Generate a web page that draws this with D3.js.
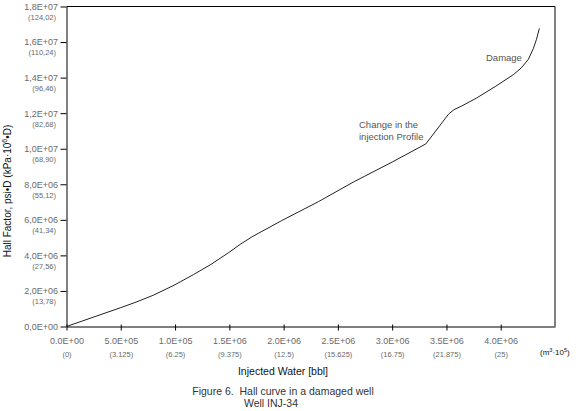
<!DOCTYPE html>
<html><head><meta charset="utf-8">
<script src="https://cdn.jsdelivr.net/npm/d3@7"></script>
<style>
html,body{margin:0;padding:0;background:#fff;}
svg{display:block;}
</style></head>
<body>
<script>
// ---- data ----
const injectedWater = [0, 2.5e5, 5.0e5, 6.4e5, 8.0e5, 9.9e5, 1.17e6, 1.33e6, 1.49e6, 1.6e6, 1.71e6, 1.98e6, 2.32e6, 2.65e6, 3.0e6, 3.31e6, 3.52e6, 3.57e6, 3.64e6, 3.78e6, 3.95e6, 4.12e6, 4.19e6, 4.255e6, 4.30e6, 4.33e6, 4.356e6];
const hallFactor    = [0, 0.53e6, 1.06e6, 1.37e6, 1.76e6, 2.32e6, 2.92e6, 3.49e6, 4.14e6, 4.62e6, 5.05e6, 5.95e6, 7.02e6, 8.15e6, 9.25e6, 10.27e6, 11.95e6, 12.2e6, 12.4e6, 12.86e6, 13.5e6, 14.18e6, 14.55e6, 15.03e6, 15.63e6, 16.16e6, 16.77e6];
const xTicks = [0, 5e5, 1e6, 1.5e6, 2e6, 2.5e6, 3e6, 3.5e6, 4e6];
const xTickLabels = ["0.0E+00","5.0E+05","1.0E+05","1.5E+06","2.0E+06","2.5E+06","3.0E+06","3.5E+06","4.0E+06"];
const xTickSI = ["(0)","(3.125)","(6.25)","(9.375)","(12.5)","(15.625)","(16.75)","(21.875)","(25)"];
const yTicks = [0, 2e6, 4e6, 6e6, 8e6, 1e7, 1.2e7, 1.4e7, 1.6e7, 1.8e7];
const yTickLabels = ["0,0E+00","2,0E+06","4,0E+06","6,0E+06","8,0E+06","1,0E+07","1,2E+07","1,4E+07","1,6E+07","1,8E+07"];
const yTickSI = ["","(13,78)","(27,56)","(41,34)","(55,12)","(68,90)","(82,68)","(96,46)","(110,24)","(124,02)"];

const W = 576, H = 411;
const x = d3.scaleLinear().domain([0, 4.5e6]).range([66.5, 555]);
const y = d3.scaleLinear().domain([0, 1.8e7]).range([326.5, 6.5]);

const svg = d3.select("body").append("svg").attr("width", W).attr("height", H)
  .style("font-family", "'Liberation Sans', Arial, sans-serif");

// frame
svg.append("path")
  .attr("d", `M${x(0)},${y(1.8e7)}H${x(4.5e6)}V${y(0)}`)
  .attr("fill","none").attr("stroke","#000").attr("stroke-width",1);

// axes
const xAxis = d3.axisBottom(x).tickValues(xTicks).tickSize(4).tickFormat((d,i)=>xTickLabels[i]).tickSizeOuter(0);
const gx = svg.append("g").attr("transform", `translate(0,${y(0)})`).call(xAxis);
gx.select(".domain").attr("stroke","#000");
gx.selectAll(".tick line").attr("y1",-2).attr("stroke","#000");
gx.selectAll(".tick text").attr("y",11).attr("font-size",9).attr("fill","#6a6a6a").attr("font-family","'Liberation Sans', Arial, sans-serif");
gx.selectAll(".tick").append("text").attr("y",25).attr("dy","0.71em").attr("text-anchor","middle")
  .attr("font-size",7.5).attr("fill","#6a6a6a").text((d,i)=>xTickSI[i]);

const yAxis = d3.axisLeft(y).tickValues(yTicks).tickSize(6).tickFormat((d,i)=>yTickLabels[i]).tickSizeOuter(0);
const gy = svg.append("g").attr("transform", `translate(${x(0)},0)`).call(yAxis);
gy.select(".domain").attr("stroke","#000");
gy.selectAll(".tick line").attr("stroke","#000");
gy.selectAll(".tick text").attr("x",-8.5).attr("font-size",9).attr("fill","#6a6a6a").attr("font-family","'Liberation Sans', Arial, sans-serif");
gy.selectAll(".tick").append("text").attr("x",-10.5).attr("y",10.5).attr("dy","0.32em").attr("text-anchor","end")
  .attr("font-size",7.5).attr("fill","#6a6a6a").text((d,i)=>yTickSI[i]);

// curve
const pts = injectedWater.map((v,i)=>[v, hallFactor[i]]);
svg.append("path").datum(pts)
  .attr("d", d3.line().x(d=>x(d[0])).y(d=>y(d[1])))
  .attr("fill","none").attr("stroke","#222").attr("stroke-width",1).attr("stroke-linejoin","round");

// annotations
svg.append("text").attr("x",486).attr("y",60.5).attr("font-size",9.5).attr("fill","#555").text("Damage");
svg.append("text").attr("x",359).attr("y",127.5).attr("font-size",9.5).attr("fill","#555").text("Change in the");
svg.append("text").attr("x",359).attr("y",139.5).attr("font-size",9.5).attr("fill","#555").text("injection Profile");

// unit label
const u = svg.append("text").attr("x",540).attr("y",355).attr("font-size",8).attr("fill","#111");
u.append("tspan").text("(m");
u.append("tspan").attr("font-size",5.5).attr("dy",-3).text("3");
u.append("tspan").attr("dy",3).text("·10");
u.append("tspan").attr("font-size",5.5).attr("dy",-3).text("5");
u.append("tspan").attr("dy",3).text(")");

// axis titles
svg.append("text").attr("x",283).attr("y",375).attr("text-anchor","middle").attr("font-size",10.5).attr("fill","#111")
  .text("Injected Water [bbl]");
const yt = svg.append("text").attr("transform","translate(11,191) rotate(-90)").attr("text-anchor","middle")
  .attr("font-size",10).attr("fill","#111");
yt.append("tspan").text("Hall Factor, psi•D (kPa·10");
yt.append("tspan").attr("font-size",7).attr("dy",-4).text("6");
yt.append("tspan").attr("dy",4).text("•D)");

// caption
svg.append("text").attr("x",283).attr("y",395).attr("text-anchor","middle").attr("font-size",10.5).attr("fill","#333")
  .text("Figure 6.\u00A0\u00A0Hall curve in a damaged well");
svg.append("text").attr("x",271).attr("y",407).attr("text-anchor","middle").attr("font-size",10.5).attr("fill","#333")
  .text("Well INJ-34");
</script>
</body></html>
